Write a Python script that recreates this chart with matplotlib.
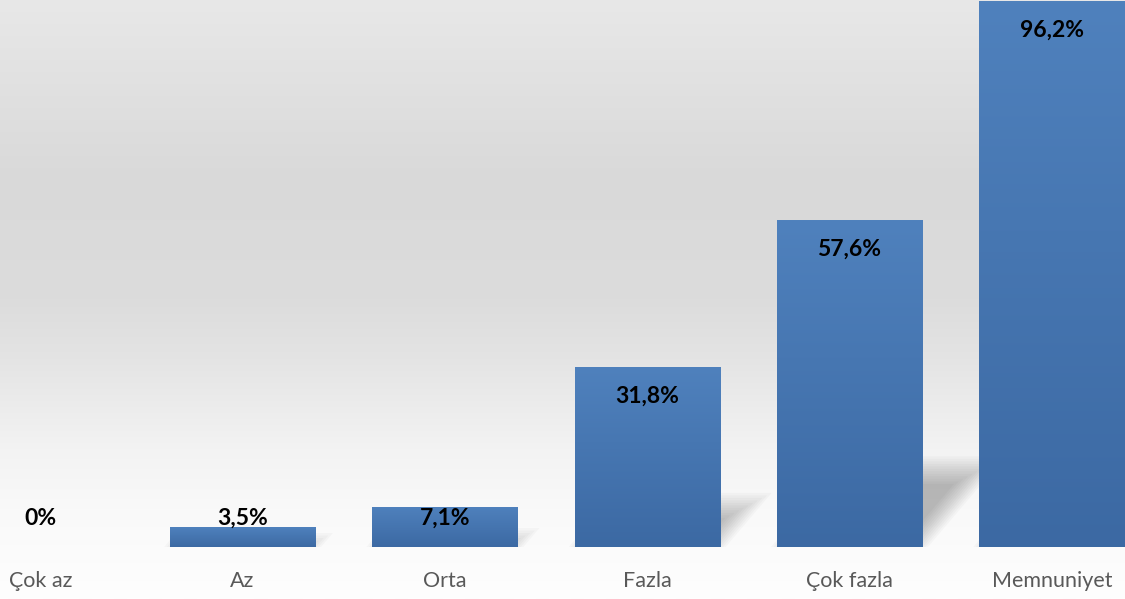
"""Bar chart: satisfaction shares by level, Excel-style gradient look."""

import numpy as np
import matplotlib

matplotlib.use("Agg")
import matplotlib.pyplot as plt
from matplotlib.patches import Polygon

categories = ["Çok az", "Az", "Orta", "Fazla", "Çok fazla", "Memnuniyet"]
values = [0.0, 3.5, 7.1, 31.8, 57.6, 96.2]

W, H = 1125, 599
BASE_PX = 52          # baseline height above the figure bottom
BAR_W = 0.717
BAR_TOP = (0.310, 0.506, 0.741)
BAR_BOT = (0.235, 0.412, 0.639)

plt.rcParams["font.family"] = ["Lato", "DejaVu Sans"]

fig = plt.figure(figsize=(W / 100, H / 100), dpi=100)

# Background: vertical grey gradient, darkest a third of the way down.
bg = fig.add_axes([0, 0, 1, 1])
stops_y = [0.0, 0.30, 0.50, 0.60, 0.75, 0.85, 1.0]
stops_v = [232, 217, 220, 228, 243, 249, 254]
col = np.interp(np.linspace(0, 1, H), stops_y, stops_v) / 255
grad = np.repeat(col[:, None, None], 3, axis=2)
bg.imshow(grad, aspect="auto", extent=[0, 1, 0, 1], interpolation="bilinear")
bg.set_axis_off()

ax = fig.add_axes([0, BASE_PX / H, 1, (H - BASE_PX) / H])
ax.patch.set_alpha(0)
ax.set_xlim(-0.199, 5.362)
ax.set_ylim(0, 96.4)

x = np.arange(len(categories))
px_per_x = W / (5.362 + 0.199)
px_per_y = (H - BASE_PX) / 96.4

# Perspective shadows behind the bars (soft edges from stacked insets).
for xi, v in zip(x, values):
    if v <= 0:
        continue
    sh = 0.25 * v + 3 / px_per_y
    dx = 0.85 * sh * px_per_y / px_per_x
    for k in range(12):
        ix = (k * 2.5 - 6) / px_per_x
        iy = (k * 2.5 - 6) / px_per_y
        left, right = xi - BAR_W / 2 + ix, xi + BAR_W / 2 - ix
        top = sh - iy
        bot = max(iy, 0)
        if top <= bot:
            break
        f_top, f_bot = top / sh, bot / sh
        poly = Polygon(
            [(left + dx * f_bot, bot), (right + dx * f_bot, bot),
             (right + dx * f_top, top), (left + dx * f_top, top)],
            closed=True, facecolor="black", edgecolor="none",
            alpha=0.022, zorder=2,
        )
        ax.add_patch(poly)

bars = ax.bar(x, values, width=BAR_W, color=BAR_BOT, linewidth=0, zorder=3)

# Vertical gradient inside each bar.
bar_grad = np.linspace(0, 1, 256)[:, None, None]
bar_img = np.array(BAR_TOP)[None, None, :] * (1 - bar_grad) + np.array(BAR_BOT)[None, None, :] * bar_grad
for b in bars:
    if b.get_height() <= 0:
        continue
    x0, w, h = b.get_x(), b.get_width(), b.get_height()
    im = ax.imshow(bar_img, extent=[x0, x0 + w, 0, h], aspect="auto",
                   interpolation="bilinear", zorder=4)
    im.set_clip_path(b)

ax.set_xlim(-0.199, 5.362)
ax.set_ylim(0, 96.4)

for xi, v in zip(x, values):
    txt = "0%" if v == 0 else f"{v:.1f}".replace(".", ",") + "%"
    y = max(v - 29.5 / px_per_y, 28.3 / px_per_y)
    ax.text(xi, y, txt, ha="center", va="center", fontsize=16.5,
            fontweight="bold", color="black", zorder=5)

ax.set_xticks(x, categories)
ax.tick_params(axis="x", length=0, pad=17, labelsize=15.5, labelcolor="#595959")
ax.set_yticks([])
for s in ax.spines.values():
    s.set_visible(False)

fig.savefig("out.png", dpi=100)
